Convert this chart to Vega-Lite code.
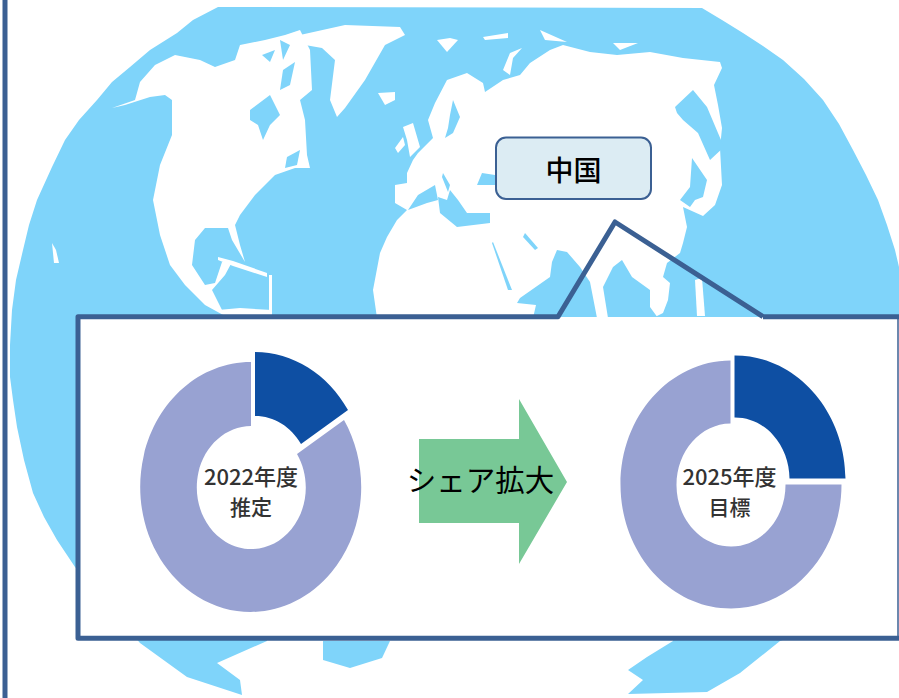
{
"$schema":"https://vega.github.io/schema/vega-lite/v6.json",
"width":899,"height":698,"padding":0,"autosize":{"type":"fit","contains":"padding"},
"background":"white",
"config":{"view":{"stroke":null},"font":"Noto Sans CJK JP"},
"projection":{"type":"identity","scale":1,"translate":[0,0]},
"resolve":{"scale":{"color":"independent"}},
"datasets":{
"map":{"type":"FeatureCollection","features":[
{"type":"Feature","properties":{"kind":"ocean","name":"globe"},"geometry":{"type":"Polygon","coordinates":[[[218,7],[702,8],[722,20],[743,33],[763,46],[783,60],[804,79],[823,100],[839,124],[853,150],[866,175],[878,200],[887,225],[895,250],[899,267],[899,600],[780,641],[740,673],[707,692],[628,694],[643,680],[628,670],[647,657],[673,641],[673,630],[267,630],[267,641],[217,663],[240,680],[242,695],[187,677],[140,643],[75,567],[67,555],[57,540],[44,517],[33,493],[24,460],[17,427],[13,400],[10,377],[10,345],[12,310],[16,280],[23,250],[29,225],[37,200],[52,167],[65,140],[79,120],[97,100],[112,82],[130,67],[150,50],[177,33],[193,20],[218,7]]]}},
{"type":"Feature","properties":{"kind":"ocean","name":"south patch"},"geometry":{"type":"Polygon","coordinates":[[[323,641],[390,641],[382,658],[350,668],[323,660],[323,641]]]}},
{"type":"Feature","properties":{"kind":"land","name":"north america"},"geometry":{"type":"Polygon","coordinates":[[[112,108],[135,100],[140,82],[155,65],[175,55],[200,60],[215,67],[235,60],[240,45],[265,40],[285,35],[300,30],[310,50],[312,90],[300,100],[305,120],[307,155],[310,168],[295,168],[275,175],[255,195],[240,215],[235,225],[240,245],[245,262],[232,240],[228,228],[205,228],[195,240],[192,265],[205,285],[215,283],[222,262],[232,262],[225,275],[212,290],[225,316],[205,305],[185,285],[170,265],[160,235],[153,200],[160,165],[172,135],[172,100],[165,95],[150,97],[125,105],[112,108]]]}},
{"type":"Feature","properties":{"kind":"land","name":"south america"},"geometry":{"type":"Polygon","coordinates":[[[218,310],[228,318],[272,318],[272,310],[240,308],[218,310]]]}},
{"type":"Feature","properties":{"kind":"land","name":"antilles"},"geometry":{"type":"Polygon","coordinates":[[[269,275],[272,275],[272,312],[269,312],[269,275]]]}},
{"type":"Feature","properties":{"kind":"land","name":"cuba"},"geometry":{"type":"Polygon","coordinates":[[[218,257],[233,261],[267,273],[267,277],[233,266],[218,260],[218,257]]]}},
{"type":"Feature","properties":{"kind":"land","name":"hawaii"},"geometry":{"type":"Polygon","coordinates":[[[52,243],[56,250],[59,263],[54,263],[52,243]]]}},
{"type":"Feature","properties":{"kind":"land","name":"greenland"},"geometry":{"type":"Polygon","coordinates":[[[300,35],[345,25],[400,27],[405,35],[385,45],[365,80],[345,108],[337,117],[330,100],[335,60],[322,48],[305,45],[300,35]]]}},
{"type":"Feature","properties":{"kind":"land","name":"iceland"},"geometry":{"type":"Polygon","coordinates":[[[378,93],[395,92],[395,100],[385,105],[378,93]]]}},
{"type":"Feature","properties":{"kind":"land","name":"britain"},"geometry":{"type":"Polygon","coordinates":[[[403,127],[413,123],[420,147],[410,157],[407,140],[403,127]]]}},
{"type":"Feature","properties":{"kind":"land","name":"ireland"},"geometry":{"type":"Polygon","coordinates":[[[403,137],[405,145],[398,153],[395,148],[403,137]]]}},
{"type":"Feature","properties":{"kind":"land","name":"svalbard"},"geometry":{"type":"Polygon","coordinates":[[[437,40],[450,38],[458,40],[447,52],[437,40]]]}},
{"type":"Feature","properties":{"kind":"land","name":"arctic 1"},"geometry":{"type":"Polygon","coordinates":[[[483,37],[508,33],[508,38],[485,40],[483,37]]]}},
{"type":"Feature","properties":{"kind":"land","name":"arctic 2"},"geometry":{"type":"Polygon","coordinates":[[[540,30],[567,42],[545,40],[540,30]]]}},
{"type":"Feature","properties":{"kind":"land","name":"arctic 3"},"geometry":{"type":"Polygon","coordinates":[[[613,43],[638,43],[620,50],[613,43]]]}},
{"type":"Feature","properties":{"kind":"land","name":"novaya zemlya"},"geometry":{"type":"Polygon","coordinates":[[[503,70],[510,53],[522,48],[513,58],[510,75],[503,70]]]}},
{"type":"Feature","properties":{"kind":"land","name":"philippines"},"geometry":{"type":"Polygon","coordinates":[[[695,280],[702,278],[705,316],[697,316],[695,280]]]}},
{"type":"Feature","properties":{"kind":"land","name":"afro-eurasia"},"geometry":{"type":"Polygon","coordinates":[[[377,318],[373,290],[380,253],[387,237],[397,220],[407,210],[395,203],[395,185],[407,183],[407,173],[413,160],[418,153],[433,138],[428,120],[435,103],[447,80],[467,73],[483,83],[485,92],[503,80],[520,75],[530,63],[550,50],[563,45],[590,52],[617,55],[650,52],[683,58],[720,62],[722,68],[714,85],[718,105],[722,128],[720,148],[722,185],[715,205],[703,216],[683,207],[687,227],[683,243],[680,253],[667,263],[663,277],[670,283],[668,300],[663,313],[653,318],[377,318]]]}},
{"type":"Feature","properties":{"kind":"ocean","name":"okhotsk"},"geometry":{"type":"Polygon","coordinates":[[[675,107],[693,90],[707,107],[718,133],[724,147],[710,160],[698,133],[683,120],[677,113],[675,107]]]}},
{"type":"Feature","properties":{"kind":"ocean","name":"sea of japan"},"geometry":{"type":"Polygon","coordinates":[[[692,158],[707,180],[703,197],[695,200],[690,207],[680,200],[690,187],[692,158]]]}},
{"type":"Feature","properties":{"kind":"ocean","name":"bay of bengal"},"geometry":{"type":"Polygon","coordinates":[[[622,260],[632,277],[650,290],[650,307],[658,318],[608,318],[603,287],[613,267],[622,260]]]}},
{"type":"Feature","properties":{"kind":"ocean","name":"arabian sea"},"geometry":{"type":"Polygon","coordinates":[[[552,262],[557,250],[567,252],[580,267],[590,282],[597,318],[533,318],[536,305],[517,303],[520,298],[550,277],[552,262]]]}},
{"type":"Feature","properties":{"kind":"ocean","name":"persian gulf"},"geometry":{"type":"Polygon","coordinates":[[[525,233],[538,248],[535,250],[523,237],[525,233]]]}},
{"type":"Feature","properties":{"kind":"ocean","name":"red sea"},"geometry":{"type":"Polygon","coordinates":[[[493,242],[512,290],[508,290],[492,243],[493,242]]]}},
{"type":"Feature","properties":{"kind":"ocean","name":"west med"},"geometry":{"type":"Polygon","coordinates":[[[408,210],[418,195],[435,185],[438,200],[427,203],[408,210]]]}},
{"type":"Feature","properties":{"kind":"ocean","name":"east med"},"geometry":{"type":"Polygon","coordinates":[[[438,197],[447,200],[450,190],[458,200],[467,213],[490,213],[490,223],[457,227],[440,213],[438,197]]]}},
{"type":"Feature","properties":{"kind":"ocean","name":"adriatic"},"geometry":{"type":"Polygon","coordinates":[[[443,173],[450,185],[448,192],[442,177],[443,173]]]}},
{"type":"Feature","properties":{"kind":"ocean","name":"black sea"},"geometry":{"type":"Polygon","coordinates":[[[477,185],[482,173],[495,175],[496,185],[477,185]]]}},
{"type":"Feature","properties":{"kind":"ocean","name":"baltic"},"geometry":{"type":"Polygon","coordinates":[[[453,100],[460,117],[453,133],[445,138],[448,128],[450,115],[453,100]]]}},
{"type":"Feature","properties":{"kind":"ocean","name":"hudson bay"},"geometry":{"type":"Polygon","coordinates":[[[250,110],[270,95],[280,115],[270,125],[263,140],[258,125],[250,120],[250,110]]]}},
{"type":"Feature","properties":{"kind":"ocean","name":"st lawrence"},"geometry":{"type":"Polygon","coordinates":[[[287,157],[300,150],[297,165],[285,168],[287,157]]]}},
{"type":"Feature","properties":{"kind":"ocean","name":"arctic channel 1"},"geometry":{"type":"Polygon","coordinates":[[[262,55],[275,50],[270,62],[262,55]]]}},
{"type":"Feature","properties":{"kind":"ocean","name":"arctic channel 2"},"geometry":{"type":"Polygon","coordinates":[[[283,70],[295,62],[290,85],[280,90],[283,70]]]}},
{"type":"Feature","properties":{"kind":"ocean","name":"arctic channel 3"},"geometry":{"type":"Polygon","coordinates":[[[280,40],[290,45],[283,60],[280,40]]]}},
{"type":"Feature","properties":{"kind":"panel","name":"panel"},"geometry":{"type":"Polygon","coordinates":[[[78,317],[899,317],[899,638],[78,638],[78,317]]]}},
{"type":"Feature","properties":{"kind":"arrow","name":"arrow"},"geometry":{"type":"Polygon","coordinates":[[[419,439],[519,439],[519,399],[567,482],[519,564],[519,523],[419,523],[419,439]]]}}
]},
"frame":{"type":"FeatureCollection","features":[
{"type":"Feature","properties":{"name":"callout"},"geometry":{"type":"LineString","coordinates":[[763,316.7],[905,316.7],[905,638.3],[78,638.3],[78,316.7],[558,316.7],[615,222],[763,316.7]]}},
{"type":"Feature","properties":{"name":"left bar"},"geometry":{"type":"LineString","coordinates":[[5,0],[5,698]]}}
]},
"edge":{"type":"FeatureCollection","features":[
{"type":"Feature","properties":{"name":"right edge"},"geometry":{"type":"LineString","coordinates":[[898,316.7],[898,638.3]]}}
]},
"share":[
{"year":"2022","part":"中国シェア","share":16},
{"year":"2022","part":"その他","share":84},
{"year":"2025","part":"中国シェア","share":25},
{"year":"2025","part":"その他","share":75}
]
},
"layer":[
{"data":{"name":"map","format":{"type":"json","property":"features"}},
 "mark":{"type":"geoshape","stroke":null,"strokeWidth":0},
 "encoding":{"color":{"field":"properties.kind","type":"nominal","legend":null,"sort":null,
   "scale":{"domain":["ocean","land","panel","arrow"],"range":["#7FD4FA","#FFFFFF","#FFFFFF","#78C896"]}}}},
{"data":{"name":"frame","format":{"type":"json","property":"features"}},
 "mark":{"type":"geoshape","filled":false,"fill":null,"stroke":"#3B6093","strokeWidth":5,"strokeJoin":"round"},
 "encoding":{}},
{"data":{"name":"edge","format":{"type":"json","property":"features"}},
 "mark":{"type":"geoshape","filled":false,"fill":null,"stroke":"#3B6093","strokeWidth":1.5},
 "encoding":{}},
{"data":{"values":[{"label":"中国"}]},
 "mark":{"type":"rect","fill":"#DCECF3","stroke":"#3B6093","strokeWidth":2,"cornerRadius":10},
 "encoding":{
  "x":{"datum":496,"scale":{"domain":[0,899],"nice":false,"zero":false},"axis":null},"x2":{"datum":651},
  "y":{"datum":137.5,"scale":{"domain":[698,0],"nice":false,"zero":false},"axis":null},"y2":{"datum":199}}},
{"data":{"name":"share"},
 "transform":[
  {"filter":"datum.year=='2022'"},
  {"calculate":"datum.part=='中国シェア'?0:2*PI*(100-datum.share)/100","as":"t0"},
  {"calculate":"datum.part=='中国シェア'?2*PI*datum.share/100:2*PI","as":"t1"},
  {"calculate":"datum.part=='中国シェア'?4:0","as":"dx"},
  {"calculate":"datum.part=='中国シェア'?-10:0","as":"dy"},
  {"calculate":"datum.share>50?1:0","as":"big"},
  {"calculate":"'M'+round(datum.dx+110.5*sin(datum.t0))+','+round(datum.dy-125*cos(datum.t0))+'A110.5,125,0,'+datum.big+',1,'+round(datum.dx+110.5*sin(datum.t1))+','+round(datum.dy-125*cos(datum.t1))+'L'+round(datum.dx+54.5*sin(datum.t1))+','+round(datum.dy-61.5*cos(datum.t1))+'A54.5,61.5,0,'+datum.big+',0,'+round(datum.dx+54.5*sin(datum.t0))+','+round(datum.dy-61.5*cos(datum.t0))+'Z'","as":"path"}
 ],
 "mark":{"type":"point","filled":true,"size":4,"opacity":1,"strokeWidth":0},
 "encoding":{
  "x":{"datum":251,"scale":{"domain":[0,899],"nice":false,"zero":false},"axis":null},
  "y":{"datum":487,"scale":{"domain":[698,0],"nice":false,"zero":false},"axis":null},
  "shape":{"field":"path","type":"nominal","scale":null,"legend":null},
  "color":{"field":"part","type":"nominal","legend":null,"scale":{"domain":["中国シェア","その他"],"range":["#0E4FA3","#98A2D2"]}}}},
{"data":{"name":"share"},
 "transform":[
  {"filter":"datum.year=='2025'"},
  {"calculate":"datum.part=='中国シェア'?0:2*PI*(100-datum.share)/100","as":"t0"},
  {"calculate":"datum.part=='中国シェア'?2*PI*datum.share/100:2*PI","as":"t1"},
  {"calculate":"datum.part=='中国シェア'?4:0","as":"dx"},
  {"calculate":"datum.part=='中国シェア'?-5.5:0","as":"dy"},
  {"calculate":"datum.share>50?1:0","as":"big"},
  {"calculate":"'M'+round(datum.dx+110.5*sin(datum.t0))+','+round(datum.dy-124*cos(datum.t0))+'A110.5,124,0,'+datum.big+',1,'+round(datum.dx+110.5*sin(datum.t1))+','+round(datum.dy-124*cos(datum.t1))+'L'+round(datum.dx+54.5*sin(datum.t1))+','+round(datum.dy-61.5*cos(datum.t1))+'A54.5,61.5,0,'+datum.big+',0,'+round(datum.dx+54.5*sin(datum.t0))+','+round(datum.dy-61.5*cos(datum.t0))+'Z'","as":"path"}
 ],
 "mark":{"type":"point","filled":true,"size":4,"opacity":1,"strokeWidth":0},
 "encoding":{
  "x":{"datum":730.5,"scale":{"domain":[0,899],"nice":false,"zero":false},"axis":null},
  "y":{"datum":484.5,"scale":{"domain":[698,0],"nice":false,"zero":false},"axis":null},
  "shape":{"field":"path","type":"nominal","scale":null,"legend":null},
  "color":{"field":"part","type":"nominal","legend":null,"scale":{"domain":["中国シェア","その他"],"range":["#0E4FA3","#98A2D2"]}}}},
{"data":{"values":[{"label":"中国"}]},
 "mark":{"type":"text","fontSize":28,"font":"Noto Sans CJK JP","fontWeight":500,"color":"#000000","align":"center","baseline":"middle"},
 "encoding":{"text":{"field":"label"},"x":{"datum":573.5,"scale":{"domain":[0,899],"nice":false,"zero":false},"axis":null},"y":{"datum":172.5,"scale":{"domain":[698,0],"nice":false,"zero":false},"axis":null}}},
{"data":{"values":[{"label":"シェア拡大"}]},
 "mark":{"type":"text","fontSize":29.5,"font":"Noto Sans CJK JP","color":"#000000","align":"center","baseline":"middle"},
 "encoding":{"text":{"field":"label"},"x":{"datum":480.5,"scale":{"domain":[0,899],"nice":false,"zero":false},"axis":null},"y":{"datum":482,"scale":{"domain":[698,0],"nice":false,"zero":false},"axis":null}}},
{"data":{"values":[{"label":"2022年度"}]},
 "mark":{"type":"text","fontSize":22,"font":"Noto Sans CJK JP","fontWeight":500,"color":"#333333","align":"center","baseline":"middle"},
 "encoding":{"text":{"field":"label"},"x":{"datum":251,"scale":{"domain":[0,899],"nice":false,"zero":false},"axis":null},"y":{"datum":478,"scale":{"domain":[698,0],"nice":false,"zero":false},"axis":null}}},
{"data":{"values":[{"label":"推定"}]},
 "mark":{"type":"text","fontSize":21,"font":"Noto Sans CJK JP","fontWeight":500,"color":"#333333","align":"center","baseline":"middle"},
 "encoding":{"text":{"field":"label"},"x":{"datum":251,"scale":{"domain":[0,899],"nice":false,"zero":false},"axis":null},"y":{"datum":509,"scale":{"domain":[698,0],"nice":false,"zero":false},"axis":null}}},
{"data":{"values":[{"label":"2025年度"}]},
 "mark":{"type":"text","fontSize":22,"font":"Noto Sans CJK JP","fontWeight":500,"color":"#333333","align":"center","baseline":"middle"},
 "encoding":{"text":{"field":"label"},"x":{"datum":729.5,"scale":{"domain":[0,899],"nice":false,"zero":false},"axis":null},"y":{"datum":478,"scale":{"domain":[698,0],"nice":false,"zero":false},"axis":null}}},
{"data":{"values":[{"label":"目標"}]},
 "mark":{"type":"text","fontSize":21,"font":"Noto Sans CJK JP","fontWeight":500,"color":"#333333","align":"center","baseline":"middle"},
 "encoding":{"text":{"field":"label"},"x":{"datum":729.5,"scale":{"domain":[0,899],"nice":false,"zero":false},"axis":null},"y":{"datum":509,"scale":{"domain":[698,0],"nice":false,"zero":false},"axis":null}}}
]
}
